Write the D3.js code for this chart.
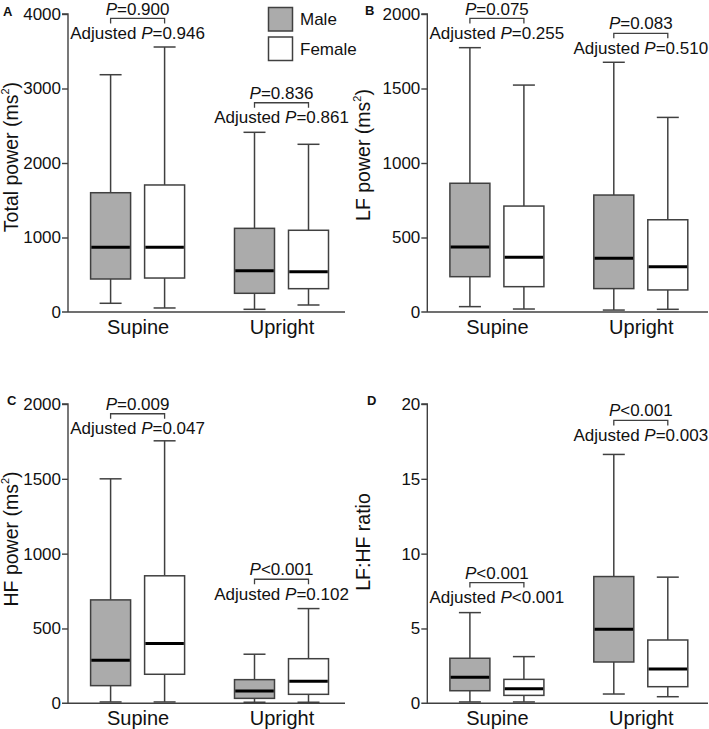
<!DOCTYPE html>
<html>
<head>
<meta charset="utf-8">
<script src="https://cdn.jsdelivr.net/npm/d3@7"></script>
<style>
  html, body { margin: 0; padding: 0; background: #fff; }
  svg { display: block; font-family: "Liberation Sans", Arial, sans-serif; }
</style>
</head>
<body>
<svg id="chart" width="709" height="729"></svg>
<script>
// ---- Data ----
const groups = ["Supine", "Upright"];
const sexes = ["Male", "Female"];
// each box: [whisker low, Q1, median, Q3, whisker high]; order: Male Supine, Female Supine, Male Upright, Female Upright
const totalPower = [[117, 443, 868, 1601, 3185], [54, 456, 868, 1705, 3557], [36, 251, 554, 1123, 2412], [94, 313, 541, 1097, 2251]];
const lfPower = [[36, 237, 436, 864, 1774], [20, 170, 367, 711, 1523], [13, 157, 360, 785, 1676], [18, 148, 304, 619, 1306]];
const hfPower = [[9, 118, 288, 691, 1500], [9, 194, 399, 852, 1754], [7, 33, 82, 158, 328], [7, 60, 147, 298, 633]];
const lfhfRatio = [[0.09, 0.84, 1.74, 3.01, 6.06], [0.09, 0.53, 0.98, 1.60, 3.12], [0.62, 2.76, 4.95, 8.47, 16.63], [0.44, 1.11, 2.29, 4.23, 8.43]];

const ticksTotal = [0, 1000, 2000, 3000, 4000];
const ticksLF = [0, 500, 1000, 1500, 2000];
const ticksHF = [0, 500, 1000, 1500, 2000];
const ticksRatio = [0, 5, 10, 15, 20];

const pA = ["=0.900", "=0.836"], adjA = ["=0.946", "=0.861"], bracketA = [3940, 2809];
const pB = ["=0.075", "=0.083"], adjB = ["=0.255", "=0.510"], bracketB = [1970, 1870];
const pC = ["=0.009", "<0.001"], adjC = ["=0.047", "=0.102"], bracketC = [1935, 829];
const pD = ["<0.001", "<0.001"], adjD = ["<0.001", "=0.003"], bracketD = [8.07, 18.9];

const panelLabels = ["A", "B", "C", "D"];
const yTitles = ["Total power", "LF power", "HF power", "LF:HF ratio"];

// ---- Style ----
const STROKE = "#404040";
const MALE_FILL = "#ababab";
const FONT = 17;

const svg = d3.select("#chart");

const panels = [
  { data: totalPower, ticks: ticksTotal, p: pA, adj: adjA, br: bracketA, label: panelLabels[0], title: yTitles[0], sup: true,
    ax: 68, top: 14, bottom: 312, xEnd: 345, lx: 3, ly: 16, ty: 157, tx: 18 },
  { data: lfPower, ticks: ticksLF, p: pB, adj: adjB, br: bracketB, label: panelLabels[1], title: yTitles[1], sup: true,
    ax: 427.3, top: 14, bottom: 312, xEnd: 708, lx: 365, ly: 15, ty: 155, tx: 370 },
  { data: hfPower, ticks: ticksHF, p: pC, adj: adjC, br: bracketC, label: panelLabels[2], title: yTitles[2], sup: true,
    ax: 68, top: 404, bottom: 703.3, xEnd: 345, lx: 7, ly: 405, ty: 539, tx: 18 },
  { data: lfhfRatio, ticks: ticksRatio, p: pD, adj: adjD, br: bracketD, label: panelLabels[3], title: yTitles[3], sup: false,
    ax: 427.3, top: 404, bottom: 703.3, xEnd: 708, lx: 367, ly: 405, ty: 542, tx: 370 }
];

panels.forEach((P, pi) => {
  const g = svg.append("g");
  const ticks = P.ticks;
  const y = d3.scaleLinear().domain([ticks[0], ticks[ticks.length - 1]]).range([P.bottom, P.top]);
  const xg = d3.scalePoint().domain(groups).range([P.ax + 69.6, P.ax + 213.5]);
  const xs = d3.scalePoint().domain(sexes).range([-27, 27]);
  const boxW = 40, capW = 22;

  // y axis
  const yAxis = d3.axisLeft(y).tickValues(ticks).tickSize(6).tickPadding(1).tickFormat(d3.format("d"));
  const ya = g.append("g").attr("transform", `translate(${P.ax},0)`).call(yAxis);
  ya.select(".domain").attr("d", `M-6,${P.top}H0V${P.bottom}`).attr("stroke", STROKE).attr("stroke-width", 1.4);
  ya.selectAll(".tick line").attr("stroke", STROKE).attr("stroke-width", 1.4);
  ya.selectAll(".tick text").attr("font-size", FONT).attr("fill", "#111")
    .attr("font-family", '"Liberation Sans", Arial, sans-serif');
  ya.selectAll(".tick").filter(d => d === ticks[0]).select("line").remove();

  // x axis
  const xAxis = d3.axisBottom(xg).tickSize(0).tickPadding(8);
  const xa = g.append("g").attr("transform", `translate(0,${P.bottom})`).call(xAxis);
  xa.select(".domain").attr("d", `M${P.ax - 6},0H${P.xEnd}`).attr("stroke", STROKE).attr("stroke-width", 1.4);
  xa.selectAll(".tick text").attr("font-size", 20).attr("fill", "#111").attr("dy", "0.71em")
    .attr("font-family", '"Liberation Sans", Arial, sans-serif');

  // boxes
  const items = [];
  groups.forEach((gr, gi) => sexes.forEach((sx, si) => items.push({ gr, sx, v: P.data[gi * 2 + si] })));
  const bx = g.selectAll(".box").data(items).enter().append("g")
    .attr("transform", d => `translate(${xg(d.gr) + xs(d.sx)},0)`);
  bx.append("line").attr("x1", 0).attr("x2", 0).attr("y1", d => y(d.v[3])).attr("y2", d => y(d.v[4]))
    .attr("stroke", STROKE).attr("stroke-width", 1.5);
  bx.append("line").attr("x1", 0).attr("x2", 0).attr("y1", d => y(d.v[1])).attr("y2", d => y(d.v[0]))
    .attr("stroke", STROKE).attr("stroke-width", 1.5);
  bx.append("line").attr("x1", -capW / 2).attr("x2", capW / 2).attr("y1", d => y(d.v[4])).attr("y2", d => y(d.v[4]))
    .attr("stroke", STROKE).attr("stroke-width", 1.5);
  bx.append("line").attr("x1", -capW / 2).attr("x2", capW / 2).attr("y1", d => y(d.v[0])).attr("y2", d => y(d.v[0]))
    .attr("stroke", STROKE).attr("stroke-width", 1.5);
  bx.append("rect").attr("x", -boxW / 2).attr("width", boxW)
    .attr("y", d => y(d.v[3])).attr("height", d => y(d.v[1]) - y(d.v[3]))
    .attr("fill", d => d.sx === "Male" ? MALE_FILL : "#fff")
    .attr("stroke", STROKE).attr("stroke-width", 1.5);
  bx.append("line").attr("x1", -boxW / 2 + 0.75).attr("x2", boxW / 2 - 0.75)
    .attr("y1", d => y(d.v[2])).attr("y2", d => y(d.v[2]))
    .attr("stroke", "#000").attr("stroke-width", 3);

  // annotations
  groups.forEach((gr, gi) => {
    const x1 = xg(gr) + xs("Male"), x2 = xg(gr) + xs("Female");
    const by = y(P.br[gi]);
    const cx = (x1 + x2) / 2;
    g.append("path").attr("d", `M${x1},${by + 5}V${by}H${x2}V${by + 5}`)
      .attr("fill", "none").attr("stroke", STROKE).attr("stroke-width", 1.3);
    const t1 = g.append("text").attr("x", cx).attr("y", Math.max(by - 4, 14.5)).attr("text-anchor", "middle")
      .attr("font-size", FONT).attr("fill", "#111");
    t1.append("tspan").attr("font-style", "italic").text("P");
    t1.append("tspan").text(P.p[gi]);
    const t2 = g.append("text").attr("x", cx).attr("y", by + 20.5).attr("text-anchor", "middle")
      .attr("font-size", FONT).attr("fill", "#111");
    t2.append("tspan").text("Adjusted ");
    t2.append("tspan").attr("font-style", "italic").text("P");
    t2.append("tspan").text(P.adj[gi]);
  });

  // y title
  const tt = g.append("text").attr("transform", `translate(${P.tx},${P.ty}) rotate(-90)`)
    .attr("text-anchor", "middle").attr("font-size", 19.5).attr("fill", "#111");
  if (P.sup) {
    tt.append("tspan").text(P.title + " (ms");
    tt.append("tspan").attr("font-size", 11).attr("dy", "-0.8em").text("2");
    tt.append("tspan").attr("dy", "0.45em").text(")");
  } else {
    tt.text(P.title);
  }

  // panel label
  g.append("text").attr("x", P.lx).attr("y", P.ly).attr("font-size", 13).attr("font-weight", "bold")
    .attr("fill", "#111").text(P.label);

  // legend in panel A
  if (pi === 0) {
    const lg = g.append("g");
    sexes.forEach((sx, si) => {
      lg.append("rect").attr("x", 268.5).attr("y", 7.5 + si * 29.5).attr("width", 24).attr("height", 23.5)
        .attr("fill", sx === "Male" ? MALE_FILL : "#fff").attr("stroke", STROKE).attr("stroke-width", 1.5);
      lg.append("text").attr("x", 300).attr("y", 25 + si * 30).attr("font-size", FONT).attr("fill", "#111").text(sx);
    });
  }
});
</script>
</body>
</html>
